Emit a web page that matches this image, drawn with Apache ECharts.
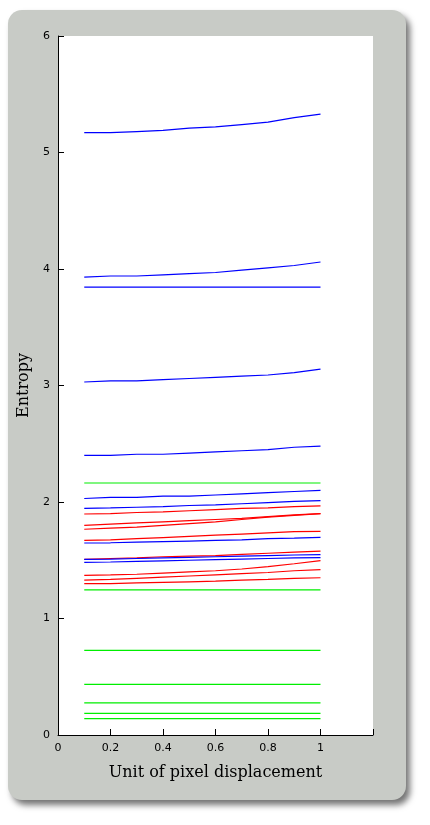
<!DOCTYPE html>
<html lang="en">
<head>
<meta charset="UTF-8">
<title>Entropy</title>
<script src="https://cdn.jsdelivr.net/npm/echarts@6/dist/echarts.min.js"></script>
<style>
    body { margin: 0; background: #fff; }
    #frame { position: absolute; left: 8px; top: 10px; width: 398px; height: 790px; background: #c8cbc6;
             border-radius: 14px; box-shadow: 4px 5px 6px rgba(0,0,0,0.55); }
    #main { position: absolute; left: 0; top: 0; width: 430px; height: 825px; }
    #plotbg { position: absolute; left: 58px; top: 36px; width: 315px; height: 699px; background: #fff; }
</style>
</head>
<body>
<div id="frame"></div>
<div id="plotbg"></div>
<div id="main"></div>
<script>
var xs = [0.1, 0.2, 0.3, 0.4, 0.5, 0.6, 0.7, 0.8, 0.9, 1.0];
var yTicks = [0, 1, 2, 3, 4, 5, 6];
var xTicks = [0, 0.2, 0.4, 0.6, 0.8, 1];

// blue curves
var blue1 = [5.17, 5.17, 5.18, 5.19, 5.21, 5.22, 5.24, 5.26, 5.30, 5.33];
var blue2 = [3.93, 3.94, 3.94, 3.95, 3.96, 3.97, 3.99, 4.01, 4.03, 4.06];
var blue3 = [3.845, 3.845, 3.845, 3.845, 3.845, 3.845, 3.845, 3.845, 3.845, 3.845];
var blue4 = [3.03, 3.04, 3.04, 3.05, 3.06, 3.07, 3.08, 3.09, 3.11, 3.14];
var blue5 = [2.40, 2.40, 2.41, 2.41, 2.42, 2.43, 2.44, 2.45, 2.47, 2.48];
var blue6 = [2.03, 2.04, 2.04, 2.05, 2.05, 2.06, 2.07, 2.08, 2.09, 2.10];
var blue7 = [1.946, 1.95, 1.955, 1.96, 1.97, 1.975, 1.985, 1.995, 2.005, 2.011];
var blue8 = [1.648, 1.65, 1.655, 1.66, 1.665, 1.67, 1.675, 1.685, 1.69, 1.697];
var blue9 = [1.508, 1.51, 1.515, 1.52, 1.525, 1.53, 1.535, 1.54, 1.545, 1.549];
var blue10 = [1.482, 1.485, 1.49, 1.495, 1.50, 1.505, 1.51, 1.515, 1.52, 1.523];
// red curves
var red1 = [1.897, 1.90, 1.91, 1.915, 1.925, 1.935, 1.945, 1.95, 1.96, 1.966];
var red2 = [1.80, 1.81, 1.82, 1.83, 1.84, 1.85, 1.86, 1.875, 1.89, 1.90];
var red3 = [1.766, 1.775, 1.785, 1.80, 1.815, 1.83, 1.85, 1.87, 1.885, 1.90];
var red4 = [1.671, 1.675, 1.685, 1.695, 1.705, 1.715, 1.725, 1.735, 1.745, 1.748];
var red5 = [1.508, 1.515, 1.52, 1.53, 1.535, 1.54, 1.55, 1.56, 1.57, 1.579];
var red6 = [1.371, 1.375, 1.38, 1.39, 1.40, 1.41, 1.425, 1.445, 1.47, 1.496];
var red7 = [1.33, 1.335, 1.345, 1.355, 1.365, 1.375, 1.385, 1.395, 1.41, 1.42];
var red8 = [1.30, 1.30, 1.305, 1.31, 1.315, 1.32, 1.33, 1.335, 1.345, 1.35];
// green flat lines
var greenLevels = [2.163, 1.245, 0.727, 0.435, 0.275, 0.186, 0.14];

var blues = [blue1, blue2, blue3, blue4, blue5, blue6, blue7, blue8, blue9, blue10];
var reds = [red1, red2, red3, red4, red5, red6, red7, red8];

function mk(vals, color) {
    return {
        type: 'line', symbol: 'none', silent: true,
        lineStyle: { color: color, width: 1.2 },
        data: xs.map(function (x, i) { return [x, vals[i]]; })
    };
}
var series = [];
greenLevels.forEach(function (g) { series.push(mk(xs.map(function () { return g; }), '#00ee00')); });
reds.forEach(function (r) { series.push(mk(r, '#ff0000')); });
blues.forEach(function (b) { series.push(mk(b, '#0000ff')); });

var myChart = echarts.init(document.getElementById('main'));
myChart.setOption({
    animation: false,
    grid: { left: 58, right: 57, top: 36, bottom: 90 },
    xAxis: {
        type: 'value', min: 0, max: 1.2, interval: 0.2,
        name: 'Unit of pixel displacement', nameLocation: 'middle', nameGap: 30,
        nameTextStyle: { fontFamily: 'DejaVu Serif', fontSize: 16, color: '#000' },
        axisLine: { lineStyle: { color: '#000' } },
        axisTick: { inside: true, length: 6, lineStyle: { color: '#000' } },
        splitLine: { show: false },
        axisLabel: {
            color: '#000', fontSize: 11, fontFamily: 'DejaVu Sans',
            formatter: function (v) { return xTicks.indexOf(Math.round(v * 10) / 10) >= 0 ? String(Math.round(v * 10) / 10) : ''; }
        }
    },
    yAxis: {
        type: 'value', min: 0, max: 6, interval: 1,
        name: 'Entropy', nameLocation: 'middle', nameGap: 25,
        nameTextStyle: { fontFamily: 'DejaVu Serif', fontSize: 16, color: '#000' },
        axisLine: { show: true, lineStyle: { color: '#000' } },
        axisTick: { show: true, inside: true, length: 6, lineStyle: { color: '#000' } },
        splitLine: { show: false },
        axisLabel: {
            color: '#000', fontSize: 11, fontFamily: 'DejaVu Sans',
            formatter: function (v) { return yTicks.indexOf(v) >= 0 ? String(v) : ''; }
        }
    },
    series: series
});
</script>
</body>
</html>
